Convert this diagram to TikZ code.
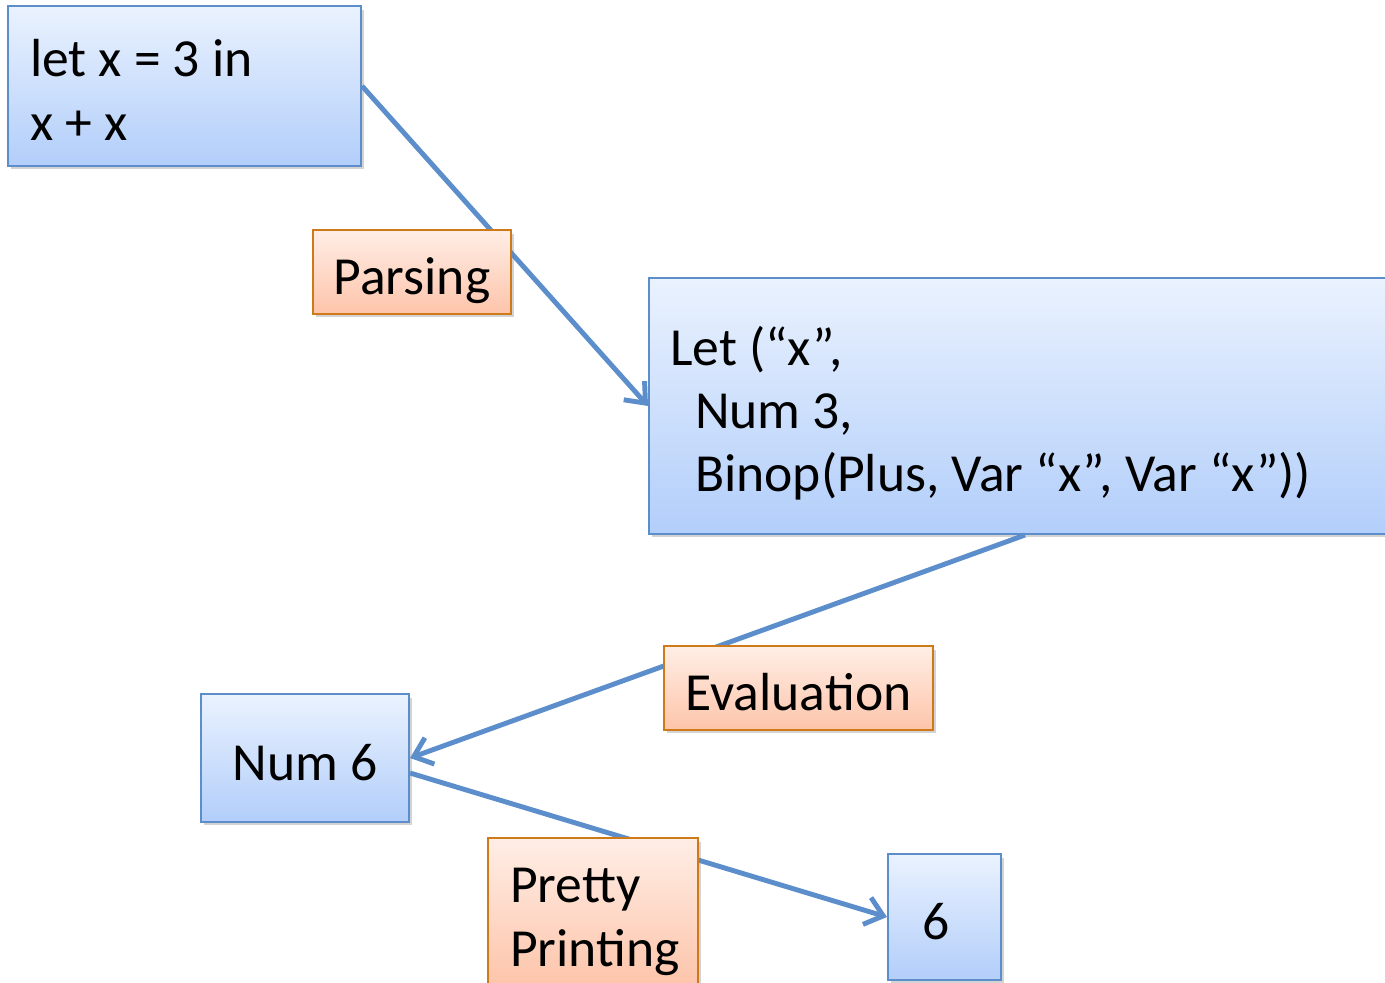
\documentclass[tikz,border=0pt]{standalone}
\usepackage{fontspec}
\setmainfont{Carlito}
\usetikzlibrary{arrows.meta,shadows}
\definecolor{edgeblue}{RGB}{92,142,204}
\definecolor{filltop}{RGB}{234,242,254}
\definecolor{fillbot}{RGB}{178,206,250}
\definecolor{edgeorange}{RGB}{206,122,24}
\definecolor{orangetop}{RGB}{255,238,230}
\definecolor{orangebot}{RGB}{253,196,170}
\begin{document}
\begin{tikzpicture}[x=0.02cm,y=-0.02cm]
\tikzstyle{every node}+=[font=\fontsize{30.5}{36}\selectfont, inner ysep=0pt,
  execute at begin node={\spaceskip=0pt\xspaceskip=0pt\rule{0pt}{1.08cm}},
  execute at end node={\rule[-0.18cm]{0pt}{0pt}}]
\tikzstyle{codebox}=[draw=edgeblue, line width=1.2pt, top color=filltop, bottom color=fillbot,
  drop shadow={shadow xshift=0.06cm, shadow yshift=-0.07cm, opacity=0.35}, align=flush left]
\tikzstyle{stepbox}=[draw=edgeorange, line width=1.2pt, top color=orangetop, bottom color=orangebot,
  drop shadow={shadow xshift=0.06cm, shadow yshift=-0.07cm, opacity=0.35}, align=center]
\tikzstyle{flow}=[draw=edgeblue, line width=2.8pt, -{Straight Barb[length=0.34cm, width=0.56cm]}]
\useasboundingbox (0,0) rectangle (1385,983);
\clip (0,0) rectangle (1385,983);
\node[codebox, text width=6.18cm, inner xsep=0.44cm, minimum height=3.2cm] (source) at (184.5,86) {let x = 3 in\\x + x};
\node[codebox, text width=14.2cm, inner xsep=0.42cm, minimum height=5.12cm] (ast) at (1025,406)
  {Let (“x”,\\\hspace*{0.5cm}Num 3,\\\hspace*{0.5cm}Binop(Plus, Var “x”, Var “x”))};
\node[codebox, align=center, minimum width=4.16cm, minimum height=2.56cm] (value) at (305,758) {Num 6};
\node[codebox, text width=0.9cm, inner xsep=0.68cm, minimum height=2.52cm] (output) at (944.5,917) {6};
\draw[flow] (source.east) -- (ast.west);
\draw[flow] (ast.south) -- (value.east);
\draw[flow] ([yshift=-0.3cm]value.east) -- (output.west);
\node[stepbox, minimum width=3.96cm, minimum height=1.68cm] (parsing) at (412,272) {Parsing};
\node[stepbox, minimum width=5.38cm, minimum height=1.68cm] (evaluation) at (798.5,688) {Evaluation};
\node[stepbox, text width=3.32cm, inner xsep=0.44cm, minimum height=2.96cm, align=flush left] (printing) at (593,912) {Pretty\\Printing};
\end{tikzpicture}
\end{document}
